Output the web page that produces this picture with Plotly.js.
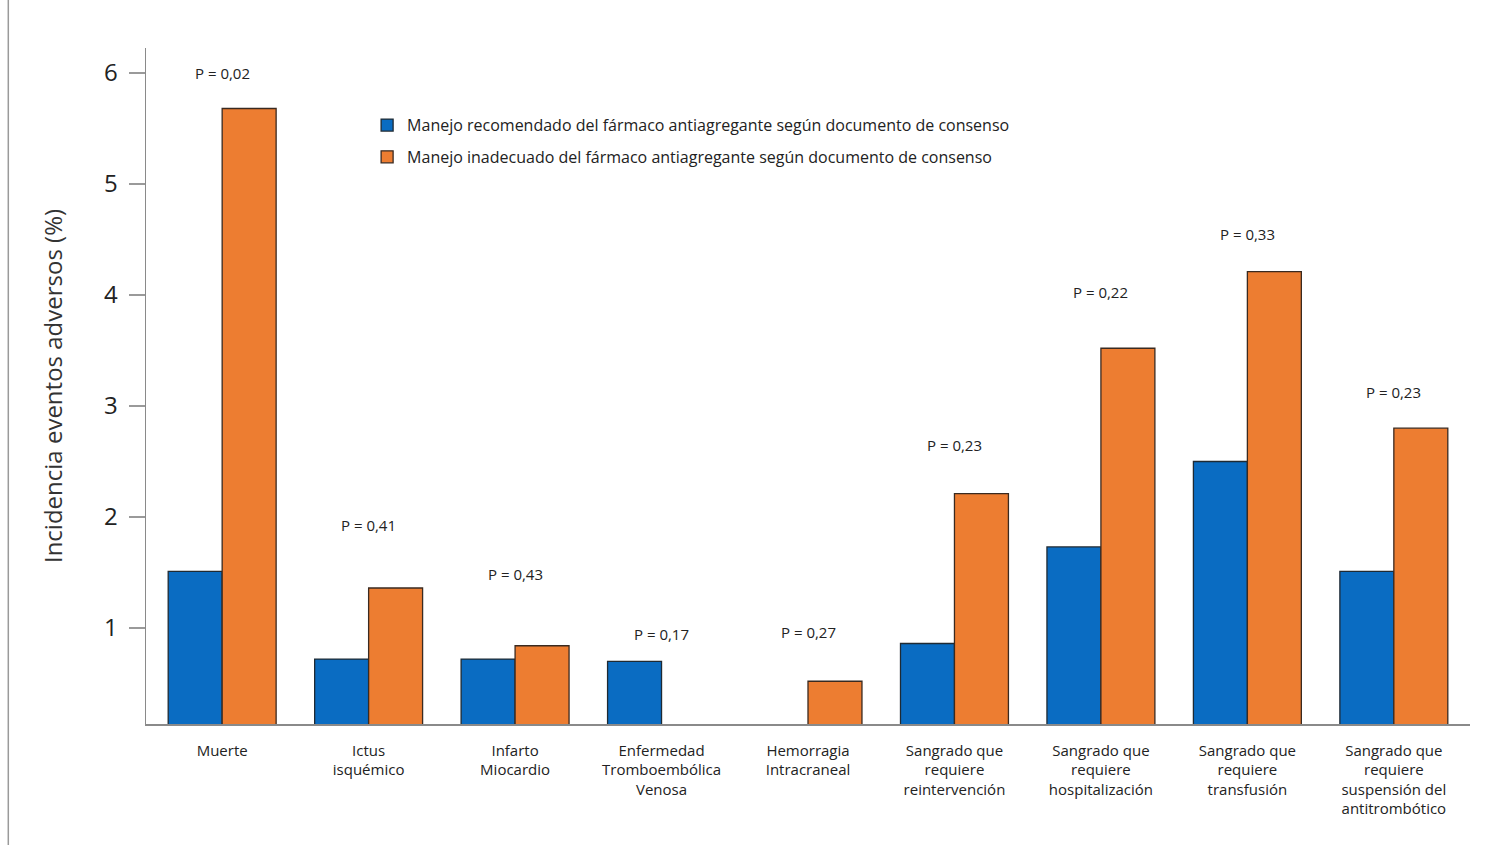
<!DOCTYPE html>
<html>
<head>
<meta charset="utf-8">
<script src="https://cdn.plot.ly/plotly-3.0.1.min.js"></script>
<style>html,body{margin:0;padding:0;background:#fff;}#chart{width:1491px;height:845px;}</style>
</head>
<body>
<div id="chart"></div>
<script>
const categories = [
  "Muerte",
  "Ictus<br>isquémico",
  "Infarto<br>Miocardio",
  "Enfermedad<br>Tromboembólica<br>Venosa",
  "Hemorragia<br>Intracraneal",
  "Sangrado que<br>requiere<br>reintervención",
  "Sangrado que<br>requiere<br>hospitalización",
  "Sangrado que<br>requiere<br>transfusión",
  "Sangrado que<br>requiere<br>suspensión del<br>antitrombótico"
];
const recomendado = [1.51, 0.72, 0.72, 0.70, 0, 0.86, 1.73, 2.50, 1.51];
const inadecuado  = [5.68, 1.36, 0.84, 0, 0.52, 2.21, 3.52, 4.21, 2.80];
const pValues = ["P = 0,02", "P = 0,41", "P = 0,43", "P = 0,17", "P = 0,27", "P = 0,23", "P = 0,22", "P = 0,33", "P = 0,23"];
const pLabelY = [6.0, 1.93, 1.49, 0.95, 0.96, 2.65, 4.03, 4.55, 3.13];
const seriesNames = [
  "Manejo recomendado del fármaco antiagregante según documento de consenso",
  "Manejo inadecuado del fármaco antiagregante según documento de consenso"
];

const FONT = "Open Sans, Noto Sans, sans-serif";
const traces = [
  {type: "bar", x: categories, y: recomendado, name: seriesNames[0], legendgroup: "a",
   marker: {color: "#0A6CC2", line: {color: "#1f2a33", width: 1.3}}},
  {type: "bar", x: categories, y: inadecuado, name: seriesNames[1], legendgroup: "b",
   marker: {color: "#ED7D31", line: {color: "#3a2a20", width: 1.3}}}
];

const annotations = categories.map((c, i) => ({
  x: c, y: pLabelY[i], xref: "x", yref: "y", text: pValues[i], showarrow: false,
  font: {family: FONT, size: 15, color: "#222"}
}));

const layout = {
  width: 1491, height: 845,
  margin: {l: 146, r: 21, t: 48, b: 121},
  paper_bgcolor: "#ffffff", plot_bgcolor: "#ffffff",
  barmode: "group", bargap: 0.263, bargroupgap: 0,
  font: {family: FONT, color: "#222"},
  xaxis: {
    type: "category", range: [-0.52, 8.52], showgrid: false, zeroline: false,
    showline: true, linecolor: "#8a8a8a", linewidth: 1.5,
    ticks: "", tickfont: {family: FONT, size: 15, color: "#222"},
    ticklabelstandoff: 12,
    automargin: false
  },
  yaxis: {
    range: [0.135, 6.225], tickvals: [1, 2, 3, 4, 5, 6], ticktext: ["1","2","3","4","5","6"],
    showgrid: false, zeroline: false,
    showline: true, linecolor: "#8a8a8a", linewidth: 1.5,
    ticks: "outside", ticklen: 16, tickwidth: 1.5, tickcolor: "#9a9a9a",
    tickfont: {family: FONT, size: 24, color: "#222"},
    ticklabelstandoff: 6,
    title: {text: "Incidencia eventos adversos (%)", font: {family: FONT, size: 24, color: "#333"}, standoff: 34},
    automargin: false
  },
  legend: {
    x: 0.167, y: 0.911, xanchor: "left", yanchor: "top",
    traceorder: "grouped",
    bgcolor: "rgba(0,0,0,0)", font: {family: FONT, size: 16, color: "#222"},
    tracegroupgap: 8, itemwidth: 30
  },
  annotations: annotations,
  shapes: [
    {type: "line", xref: "paper", yref: "paper", x0: -0.104, x1: -0.104, y0: -0.18, y1: 1.071,
     line: {color: "#9a9a9a", width: 1.5}}
  ]
};

Plotly.newPlot("chart", traces, layout, {displayModeBar: false, staticPlot: true});
</script>
</body>
</html>
